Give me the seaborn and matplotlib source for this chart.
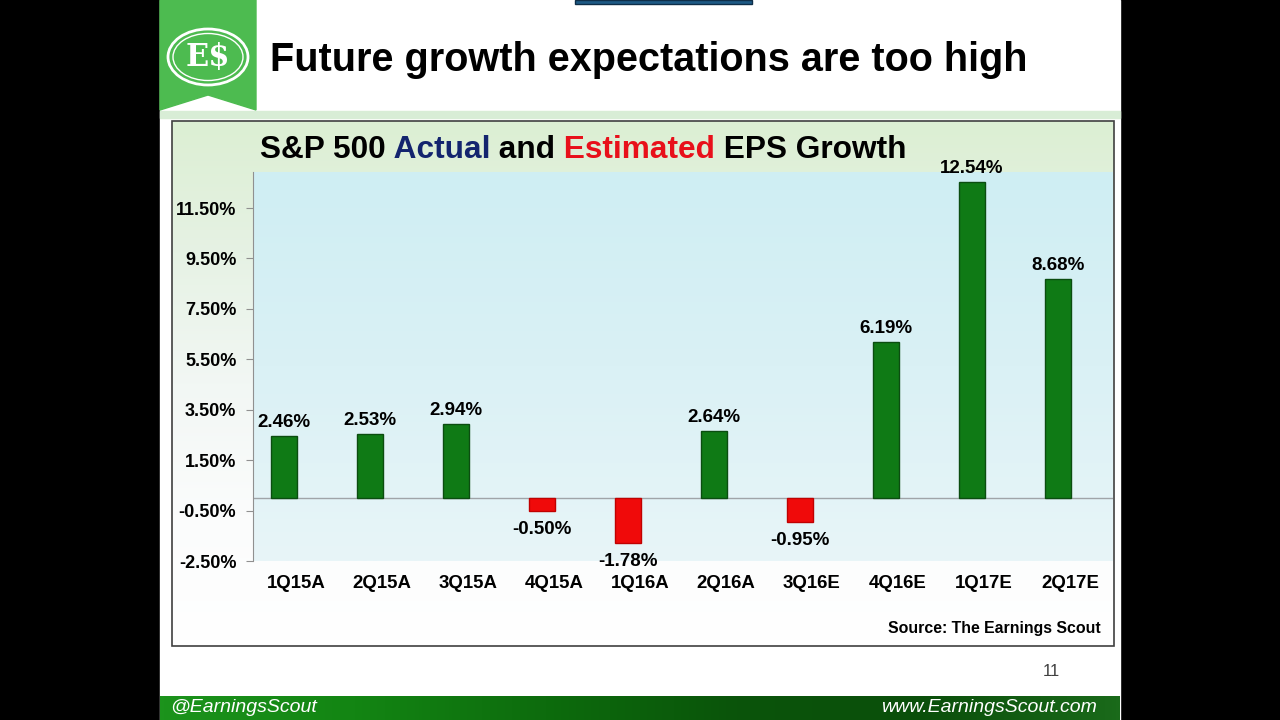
import numpy as np
import pandas as pd
import matplotlib.pyplot as plt
import matplotlib.transforms as mtransforms
import seaborn as sns
from matplotlib.patches import Rectangle, Polygon, Ellipse
from matplotlib.colors import LinearSegmentedColormap

# data
quarters = ['1Q15A', '2Q15A', '3Q15A', '4Q15A', '1Q16A', '2Q16A', '3Q16E', '4Q16E', '1Q17E', '2Q17E']
growth = [2.46, 2.53, 2.94, -0.50, -1.78, 2.64, -0.95, 6.19, 12.54, 8.68]
yticks = [-2.5, -0.5, 1.5, 3.5, 5.5, 7.5, 9.5, 11.5]

df = pd.DataFrame({'quarter': quarters, 'growth': growth})
df['sign'] = np.where(df['growth'] >= 0, 'pos', 'neg')

sns.set_style('white')
plt.rcParams['font.family'] = ['Liberation Sans', 'DejaVu Sans']
plt.rcParams['text.color'] = 'black'
plt.rcParams['xtick.color'] = 'black'
plt.rcParams['ytick.color'] = 'black'

fig = plt.figure(figsize=(12.8, 7.2), dpi=100, facecolor='black')

# slide decoration layer in pixel coords
bg = fig.add_axes([0, 0, 1, 1], zorder=0)
bg.set_xlim(0, 1280)
bg.set_ylim(720, 0)
bg.axis('off')
bg.add_patch(Rectangle((160, 0), 960, 720, color='white'))
bg.add_patch(Rectangle((575, 0), 177, 4, facecolor='#1d5a85', edgecolor='#0e2e48', lw=1))
bg.add_patch(Rectangle((160, 111), 960, 7, color='#d8edd6'))
bg.add_patch(Polygon([(160, 0), (256, 0), (256, 110), (208, 95), (160, 110)], color='#4dbb50'))
bg.add_patch(Ellipse((208, 57), 80, 56, fill=False, ec='white', lw=2))
bg.add_patch(Ellipse((208, 57), 70, 47, fill=False, ec='white', lw=1))
bg.text(208, 58, 'E$', color='white', fontsize=22, fontweight='bold', family='DejaVu Serif',
        ha='center', va='center')
bg.text(270, 60, 'Future growth expectations are too high', fontsize=28.5, fontweight='bold',
        ha='left', va='center')

# chart box with vertical gradient
box_cmap = LinearSegmentedColormap.from_list('box', ['#dcefd3', '#e6f2e4', '#f2f7f4', '#fbfcfc', '#ffffff'])
bg.imshow(np.linspace(0, 1, 256).reshape(-1, 1), cmap=box_cmap, aspect='auto',
          extent=(172, 1114, 646, 121), origin='upper', zorder=1)
bg.add_patch(Rectangle((172, 121), 942, 525, fill=False, ec='#404040', lw=1.2, zorder=2))
bg.text(1101, 628, 'Source: The Earnings Scout', fontsize=11.4, fontweight='bold', ha='right', va='center', zorder=3)
bg.text(1051, 671, '11', fontsize=12, color='#404040', ha='center', va='center')

# footer bar
foot_cmap = LinearSegmentedColormap.from_list('foot', ['#1c931c', '#138513', '#0d6c0d', '#0a540a', '#0b4f0b', '#1a6a1a'])
bg.imshow(np.linspace(0, 1, 256).reshape(1, -1), cmap=foot_cmap, aspect='auto',
          extent=(160, 1120, 720, 696), origin='upper', zorder=1)
foot_font = ['Liberation Sans Narrow', 'Liberation Sans']
bg.text(170, 708, '@EarningsScout', color='white', fontsize=14, style='italic', family=foot_font,
        ha='left', va='center', zorder=3)
bg.text(1097, 707, 'www.EarningsScout.com', color='white', fontsize=14, style='italic', family=foot_font,
        ha='right', va='center', zorder=3)

# chart title in coloured pieces
t = bg.text(260, 158, 'S&P 500', fontsize=22.8, fontweight='bold', ha='left', va='baseline', zorder=3)
for part, col in [(' Actual', '#13246e'), (' and', 'black'), (' Estimated', '#e8101a'), (' EPS Growth', 'black')]:
    t = bg.annotate(part, xy=(1, 0), xycoords=t, fontsize=22.8, fontweight='bold', color=col,
                    ha='left', va='bottom', zorder=3)

# bar chart
ax = fig.add_axes([253 / 1280, (720 - 561) / 720, 860 / 1280, 389 / 720], zorder=2)
ax.set_facecolor('none')
plot_cmap = LinearSegmentedColormap.from_list('plot', ['#cfeef3', '#daf1f5', '#e8f5f8'])
ax.imshow(np.linspace(0, 1, 256).reshape(-1, 1), cmap=plot_cmap, aspect='auto',
          extent=(-0.36, 9.64, -2.5, 12.93), origin='upper', zorder=0)

sns.barplot(data=df, x='quarter', y='growth', hue='sign', palette={'pos': '#0f7a15', 'neg': '#f00a0a'},
            dodge=False, width=0.3, saturation=1, legend=False, ax=ax, zorder=2)
for bar in ax.patches:
    bar.set_edgecolor('#0b4d10' if bar.get_height() >= 0 else '#c00000')
    bar.set_linewidth(1)

ax.axhline(0, color='#a0a4a8', lw=1, zorder=1)
for i, v in enumerate(growth):
    off = 0.2 if v >= 0 else -0.4
    ax.text(i, v + off, f'{v:.2f}%', ha='center', va='bottom' if v >= 0 else 'top',
            fontsize=13.5, fontweight='bold', zorder=3)

ax.set_xlim(-0.36, 9.64)
ax.set_ylim(-2.5, 12.93)
ax.set_yticks(yticks)
ax.set_yticklabels([f'{y:.2f}%' for y in yticks], fontsize=13, fontweight='bold')
ax.set_xticks(range(len(quarters)))
ax.set_xticklabels(quarters, fontsize=13.4, fontweight='bold')
ax.tick_params(axis='y', length=5, color='#909090', direction='out', left=True, pad=7)
ax.tick_params(axis='x', length=0, pad=10)
# category labels sit a little right of the bars on the slide
shift = mtransforms.ScaledTranslation(12 / 100, 0, fig.dpi_scale_trans)
for lab in ax.get_xticklabels():
    lab.set_transform(lab.get_transform() + shift)
ax.set_xlabel('')
ax.set_ylabel('')
for s in ['top', 'right', 'bottom']:
    ax.spines[s].set_visible(False)
ax.spines['left'].set_color('#909090')

fig.savefig('out.png', dpi=100, facecolor='black')
